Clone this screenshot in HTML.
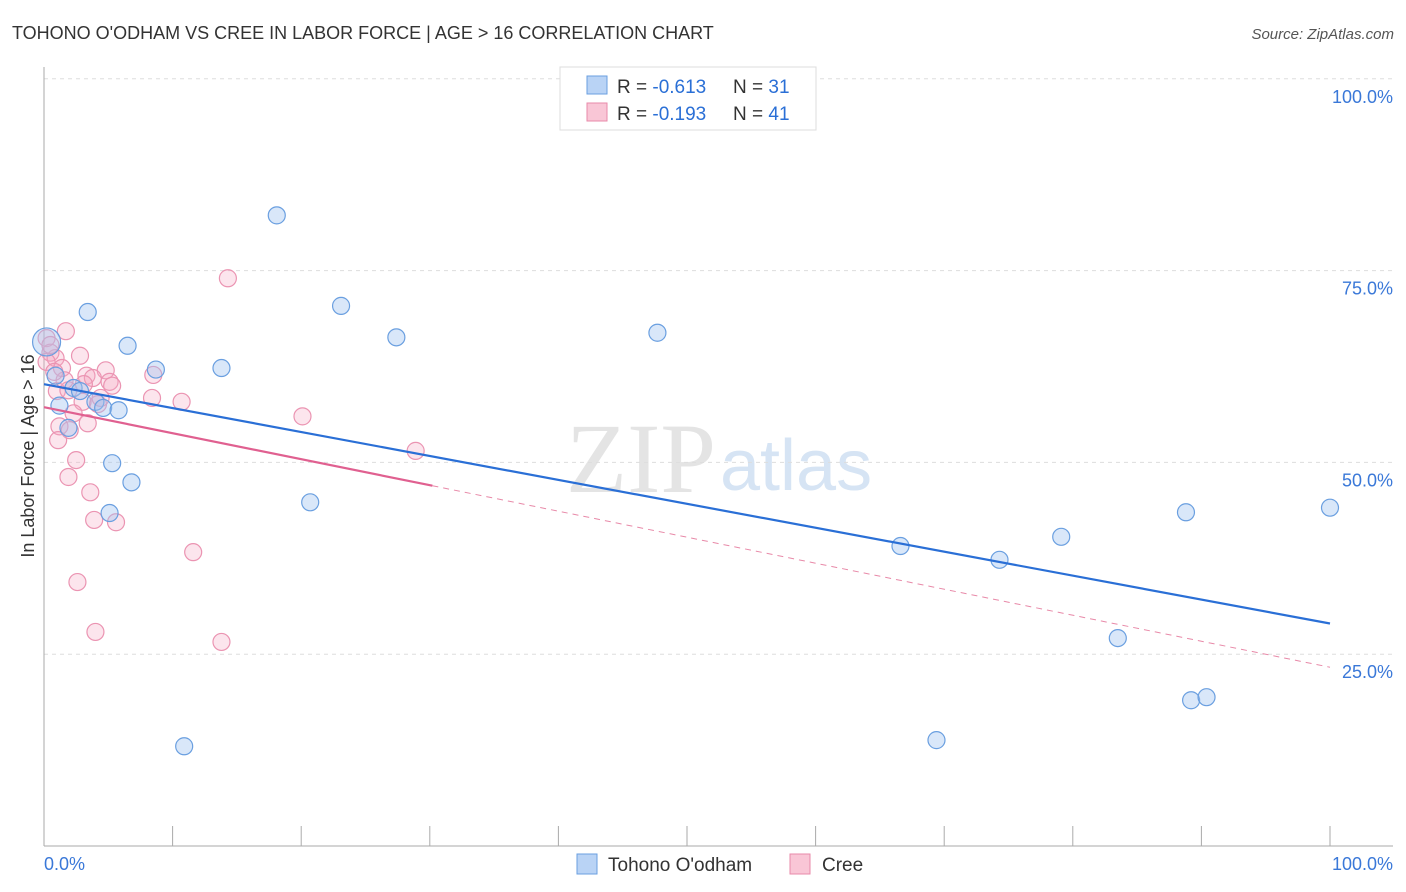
<!DOCTYPE html>
<html><head><meta charset="utf-8"><style>
body{margin:0;background:#fff;font-family:"Liberation Sans",sans-serif;}
svg{display:block}
</style></head><body>
<svg id="c" width="1406" height="892">
<text x="12" y="39" font-size="18" fill="#333">TOHONO O'ODHAM VS CREE IN LABOR FORCE | AGE &gt; 16 CORRELATION CHART</text>
<text x="1394" y="39" font-size="15" fill="#555" font-style="italic" text-anchor="end">Source: ZipAtlas.com</text>
<text x="716" y="492" font-size="100" fill="#e4e4e4" text-anchor="end" font-family="Liberation Serif,serif">ZIP</text>
<text x="720" y="490" font-size="72" fill="#d6e4f4">atlas</text>
<text transform="translate(34,456) rotate(-90)" font-size="18" fill="#333" text-anchor="middle">In Labor Force | Age &gt; 16</text>
<g id="grid"></g><g id="pts"></g><g id="lines"></g>
<g>
<rect x="560" y="67" width="256" height="63" fill="#fff" stroke="#ddd"/>
<rect x="587" y="76" width="20" height="18" fill="#b9d3f5" stroke="#6a9fe0"/>
<rect x="587" y="103" width="20" height="18" fill="#f9c6d6" stroke="#e88aaa"/>
<text x="617" y="93" font-size="19" fill="#333">R = <tspan fill="#2a6fd6">-0.613</tspan><tspan x="733">N = </tspan><tspan fill="#2a6fd6">31</tspan></text>
<text x="617" y="120" font-size="19" fill="#333">R = <tspan fill="#2a6fd6">-0.193</tspan><tspan x="733">N = </tspan><tspan fill="#2a6fd6">41</tspan></text>
</g>
<g>
<rect x="577" y="854" width="20" height="20" fill="#b9d3f5" stroke="#6a9fe0"/>
<text x="608" y="871" font-size="19" fill="#333">Tohono O'odham</text>
<rect x="790" y="854" width="20" height="20" fill="#f9c6d6" stroke="#e88aaa"/>
<text x="822" y="871" font-size="19" fill="#333">Cree</text>
</g>
<text x="44" y="870" font-size="18" fill="#3a78d8">0.0%</text>
<text x="1393" y="870" font-size="18" fill="#3a78d8" text-anchor="end">100.0%</text>
</svg>
<script>
const yTicks=[100,75,50,25];
const yTickLabels=["100.0%","75.0%","50.0%","25.0%"];
const blueX=[18.1,3.4,23.1,27.4,47.7,6.5,8.7,13.8,0.9,2.3,2.8,1.2,4.0,4.6,5.8,1.9,5.3,6.8,20.7,5.1,10.9,66.6,74.3,79.1,88.8,100,83.5,89.2,90.4,69.4,0.2];
const blueY=[82.2,69.6,70.4,66.3,66.9,65.2,62.1,62.3,61.3,59.7,59.3,57.4,57.9,57.1,56.8,54.5,49.9,47.4,44.8,43.4,13.0,39.1,37.3,40.3,43.5,44.1,27.1,19.0,19.4,13.8,65.7];
const blueR=[8.5,8.5,8.5,8.5,8.5,8.5,8.5,8.5,8.5,8.5,8.5,8.5,8.5,8.5,8.5,8.5,8.5,8.5,8.5,8.5,8.5,8.5,8.5,8.5,8.5,8.5,8.5,8.5,8.5,8.5,14];
const pinkX=[14.3,1.7,0.2,0.5,2.8,0.9,1.4,4.8,8.5,3.3,3.8,5.1,5.3,1.0,1.9,8.4,10.7,4.2,3.0,2.3,3.4,1.2,2.0,1.1,20.1,28.9,2.5,1.9,3.6,3.9,5.6,11.6,2.6,4.0,13.8,0.5,1.6,4.4,0.2,0.8,3.1];
const pinkY=[74.0,67.1,66.2,64.3,63.9,63.6,62.3,62.0,61.4,61.3,61.0,60.5,60.0,59.3,59.4,58.4,57.9,57.6,57.9,56.4,55.1,54.7,54.2,52.9,56.0,51.5,50.3,48.1,46.1,42.5,42.2,38.3,34.4,27.9,26.6,65.3,60.7,58.4,63.1,61.8,60.2];
const blueTrend=[60.2,29.0];
const pinkTrend=[57.2,23.3];
const pinkSolidEnd=[30.2];
const NS="http://www.w3.org/2000/svg";
const X=v=>44+v*12.86, Y=v=>846-v*7.672;
function mk(p,t,a){const e=document.createElementNS(NS,t);for(const k in a)e.setAttribute(k,a[k]);p.appendChild(e);return e;}
const g=document.getElementById('grid');
yTicks.forEach((t,i)=>{
 const l=mk(g,'line',{x1:44,x2:1393,y1:Y(t),y2:Y(t),stroke:'#ddd','stroke-dasharray':'4,4'});
 
 
 const tx=mk(g,'text',{x:1393,y:Y(t)+24,'font-size':18,fill:'#3a78d8','text-anchor':'end'});
 tx.textContent=yTickLabels[i];
 
 
});
mk(g,'line',{x1:44,x2:44,y1:67,y2:846,stroke:'#aaa'});
mk(g,'line',{x1:44,x2:1393,y1:846,y2:846,stroke:'#aaa'});
for(let i=0;i<=10;i++){const tk=mk(g,'line',{x1:X(i*10),x2:X(i*10),y1:826,y2:846,stroke:'#aaa'});
 
 }
const p=document.getElementById('pts');
pinkX.forEach((x,i)=>{const c=mk(p,'circle',{cx:X(x),cy:Y(pinkY[i]),r:8.5,fill:'rgba(246,170,196,0.3)',stroke:'#eb94b2','stroke-width':1.2});
 
 });
blueX.forEach((x,i)=>{const c=mk(p,'circle',{cx:X(x),cy:Y(blueY[i]),r:blueR[i],fill:'rgba(160,196,240,0.4)',stroke:'#6a9fe0','stroke-width':1.2});
 
 });
const L=document.getElementById('lines');
const pk=v=>pinkTrend[0]+(pinkTrend[1]-pinkTrend[0])*v/100;
const bl=mk(L,'line',{x1:X(0),y1:Y(blueTrend[0]),x2:X(100),y2:Y(blueTrend[1]),stroke:'#2a6fd6','stroke-width':2.2});


const pd=mk(L,'line',{x1:X(pinkSolidEnd[0]),y1:Y(pk(pinkSolidEnd[0])),x2:X(100),y2:Y(pinkTrend[1]),stroke:'#e889a8','stroke-width':1,'stroke-dasharray':'6,5'});


const ps=mk(L,'line',{x1:X(0),y1:Y(pinkTrend[0]),x2:X(pinkSolidEnd[0]),y2:Y(pk(pinkSolidEnd[0])),stroke:'#e06090','stroke-width':2.2});


</script>
</body></html>
